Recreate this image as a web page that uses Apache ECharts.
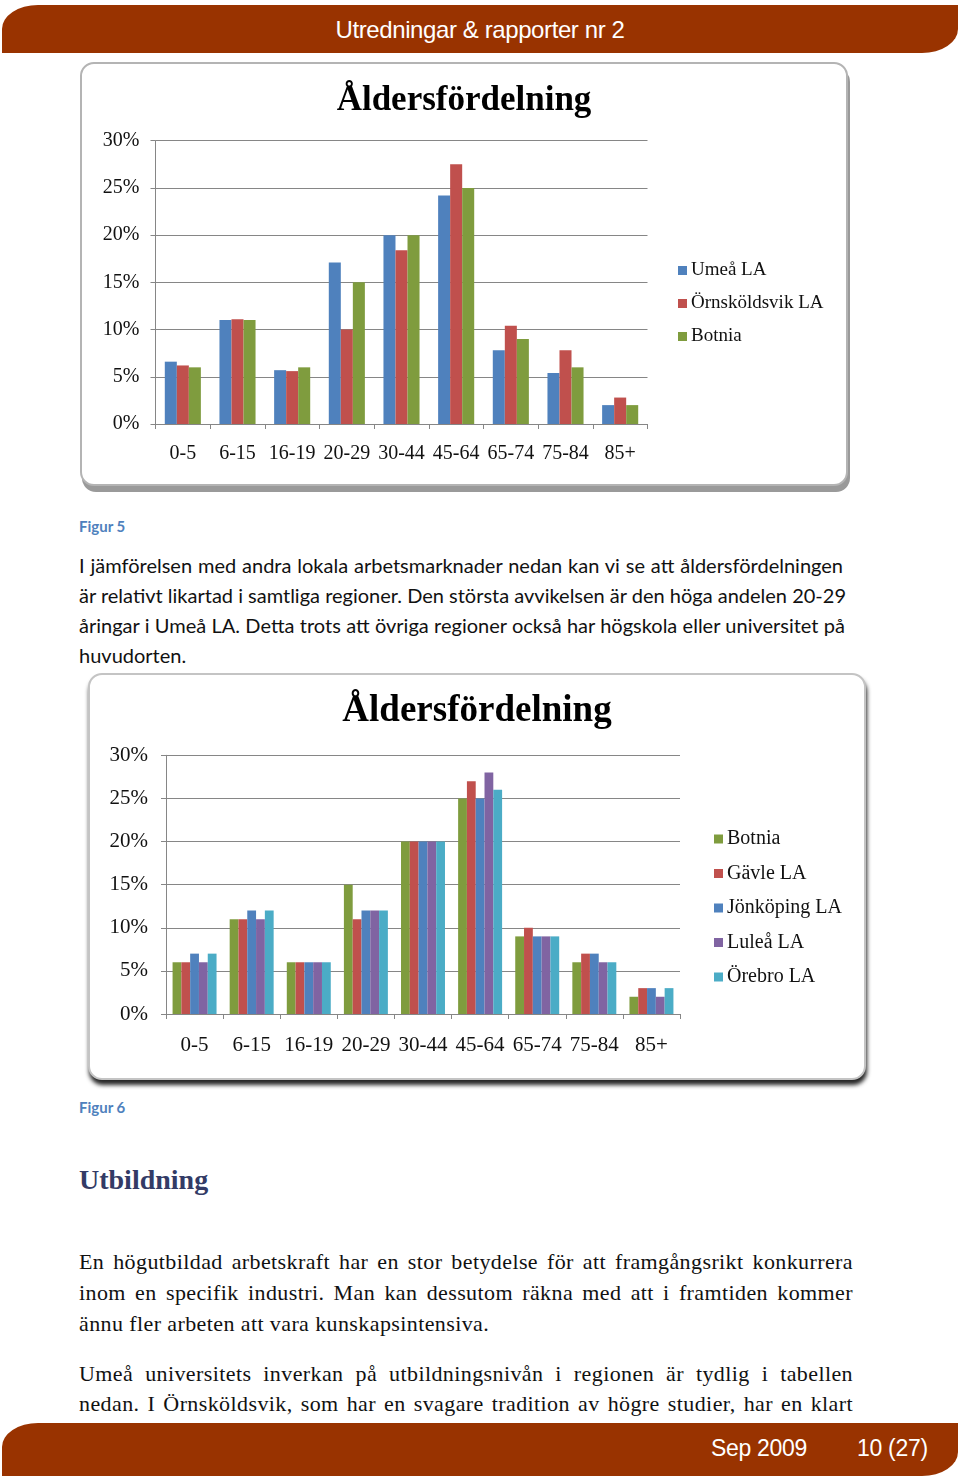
<!DOCTYPE html>
<html><head><meta charset="utf-8">
<script src="https://cdn.jsdelivr.net/npm/echarts@6/dist/echarts.min.js"></script>
<style>
html,body{margin:0;padding:0;background:#fff;}
body{width:960px;height:1480px;position:relative;overflow:hidden;}
.band{position:absolute;left:2px;width:956px;background:#993300;color:#fff;font-family:"Liberation Sans",Arial,sans-serif;}
#head{top:5px;height:48px;border-radius:36px 0 36px 0 / 24px 0 24px 0;}
#head span{position:absolute;left:0;right:0;top:11px;text-align:center;font-size:24px;letter-spacing:-0.4px;}
#foot{top:1423px;height:53px;border-radius:36px 0 36px 0 / 24px 0 24px 0;}
#foot span{position:absolute;top:12px;font-size:23px;letter-spacing:-0.3px;}
.box{position:absolute;background:#fff;border-radius:14px;}
#box1{left:80px;top:62px;width:764px;height:420px;border:2px solid #b4b4b4;box-shadow:2px 6px 0 #9a9a9a;}
#box2{left:88px;top:673px;width:774px;height:403px;border:2px solid #c4c4c4;box-shadow:1px 5px 4px rgba(0,0,0,0.85);}
.fig{position:absolute;left:79px;font-family:Lato,"Open Sans",sans-serif;font-weight:bold;color:#4f81bd;font-size:15px;}
.ln{position:absolute;left:79px;white-space:nowrap;color:#111;}
.j{text-align:justify;text-align-last:justify;white-space:normal;}
.cal{font-family:Lato,"Open Sans",sans-serif;font-size:20px;height:24px;line-height:24px;}
.ser{font-family:"Liberation Serif","Times New Roman",serif;font-size:22px;letter-spacing:0.4px;height:26px;line-height:26px;}
#c1{position:absolute;left:80px;top:62px;width:768px;height:424px;}
#c2{position:absolute;left:88px;top:673px;width:778px;height:408px;}
</style></head>
<body>
<div id="head" class="band"><span>Utredningar &amp; rapporter nr 2</span></div>
<div id="box1" class="box"></div>
<div id="c1"></div>
<div class="fig" style="top:517px">Figur 5</div>
<div class="ln cal j" style="top:553px;width:764px">I jämförelsen med andra lokala arbetsmarknader nedan kan vi se att åldersfördelningen</div>
<div class="ln cal j" style="top:583px;width:767px">är relativt likartad i samtliga regioner. Den största avvikelsen är den höga andelen 20-29</div>
<div class="ln cal j" style="top:613px;width:766px">åringar i Umeå LA. Detta trots att övriga regioner också har högskola eller universitet på</div>
<div class="ln cal" style="top:643px">huvudorten.</div>
<div id="box2" class="box"></div>
<div id="c2"></div>
<div class="fig" style="top:1098px">Figur 6</div>
<div class="ln" style="top:1164px;font-family:'Liberation Serif',serif;font-weight:bold;font-size:28px;color:#333b66;">Utbildning</div>
<div class="ln ser j" style="top:1249px;width:774px">En högutbildad arbetskraft har en stor betydelse för att framgångsrikt konkurrera</div>
<div class="ln ser j" style="top:1280px;width:774px">inom en specifik industri. Man kan dessutom räkna med att i framtiden kommer</div>
<div class="ln ser" style="top:1311px">ännu fler arbeten att vara kunskapsintensiva.</div>
<div class="ln ser j" style="top:1361px;width:774px">Umeå universitets inverkan på utbildningsnivån i regionen är tydlig i tabellen</div>
<div class="ln ser j" style="top:1391px;width:774px">nedan. I Örnsköldsvik, som har en svagare tradition av högre studier, har en klart</div>
<div id="foot" class="band"><span style="left:709px">Sep 2009</span><span style="left:855px">10 (27)</span></div>
<script>
// ---- data ----
const ageGroups = ['0-5','6-15','16-19','20-29','30-44','45-64','65-74','75-84','85+'];
const yTicks = [0,5,10,15,20,25,30];
const chartTitle = 'Åldersfördelning';
// Figure 5
const umea       = [6.6, 11.0, 5.7, 17.1, 20.0, 24.2, 7.8, 5.4, 2.0];
const ornskoldsvik = [6.2, 11.1, 5.6, 10.0, 18.4, 27.5, 10.4, 7.8, 2.8];
const botnia1    = [6.0, 11.0, 6.0, 15.0, 20.0, 25.0, 9.0, 6.0, 2.0];
// Figure 6
const botnia2    = [6, 11, 6, 15, 20, 25, 9, 6, 2];
const gavle      = [6, 11, 6, 11, 20, 27, 10, 7, 3];
const jonkoping  = [7, 12, 6, 12, 20, 25, 9, 7, 3];
const lulea      = [6, 11, 6, 12, 20, 28, 9, 6, 2];
const orebro     = [7, 12, 6, 12, 20, 26, 9, 6, 3];

const C = {blue:'#4f81bd', red:'#c0504d', green:'#7f9c3e', purple:'#8064a2', cyan:'#4bacc6'};
const serif = '"Liberation Serif","Times New Roman",serif';

function makeOpt(cfg){
  return {
    animation:false,
    textStyle:{fontFamily:serif},
    title:{text:chartTitle,left:'center',top:cfg.titleTop,
      textStyle:{fontFamily:serif,fontWeight:'bold',fontSize:cfg.titleSize,color:'#000'}},
    legend:{orient:'vertical',left:cfg.legLeft,top:cfg.legTop,itemWidth:9,itemHeight:9,itemGap:cfg.legGap,icon:'rect',
      textStyle:{fontFamily:serif,fontSize:cfg.legFont,color:'#111',padding:[0,0,0,-1]}},
    grid:cfg.grid,
    xAxis:{type:'category',data:ageGroups,
      axisLine:{lineStyle:{color:'#868686',width:1}},
      axisTick:{show:true,length:5,lineStyle:{color:'#868686'}},
      axisLabel:{fontFamily:serif,fontSize:cfg.font,color:'#111',margin:cfg.xMargin,interval:0}},
    yAxis:{type:'value',min:0,max:30,interval:5,
      axisLine:{show:true,lineStyle:{color:'#868686'}},
      axisTick:{show:true,length:5,lineStyle:{color:'#868686'}},
      splitLine:{lineStyle:{color:'#868686',width:1}},
      axisLabel:{fontFamily:serif,fontSize:cfg.font,color:'#111',margin:cfg.yMargin,
        formatter:v=>yTicks.includes(v)?v+'%':''}},
    series:cfg.series.map(s=>({type:'bar',name:s[0],data:s[1],itemStyle:{color:s[2]},
      barGap:'0%',barCategoryGap:cfg.catGap}))
  };
}

const ch1 = echarts.init(document.getElementById('c1'),null,{renderer:'canvas'});
ch1.setOption(makeOpt({
  titleTop:16,titleSize:35,font:20,legFont:19,legLeft:593,legTop:194,legGap:14,xMargin:20,yMargin:16,catGap:'34%',
  grid:{left:75.5,top:78.7,width:492,height:283.3},
  series:[['Umeå LA',umea,C.blue],['Örnsköldsvik LA',ornskoldsvik,C.red],['Botnia',botnia1,C.green]]
}));
const ch2 = echarts.init(document.getElementById('c2'),null,{renderer:'canvas'});
ch2.setOption(makeOpt({
  titleTop:15,titleSize:37,font:21,legFont:20,legLeft:621,legTop:151,legGap:14.5,xMargin:21,yMargin:18,catGap:'23%',
  grid:{left:78,top:82.3,width:514,height:258.7},
  series:[['Botnia',botnia2,C.green],['Gävle LA',gavle,C.red],['Jönköping LA',jonkoping,C.blue],['Luleå LA',lulea,C.purple],['Örebro LA',orebro,C.cyan]]
}));
</script>
</body></html>
